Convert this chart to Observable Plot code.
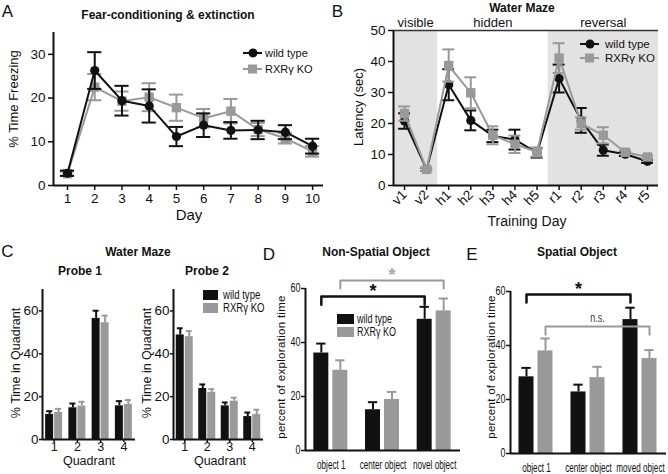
<!DOCTYPE html>
<html><head><meta charset="utf-8">
<script src="https://cdn.jsdelivr.net/npm/d3@7"></script>
<script src="https://cdn.jsdelivr.net/npm/@observablehq/plot@0.6"></script>
<style>
html,body{margin:0;padding:0;background:#fff;}
#root{position:relative;width:668px;height:474px;overflow:hidden;font-family:"Liberation Sans",Arial,sans-serif;color:#111;}
</style></head><body><div id="root"></div>
<script>
// ---------- DATA ----------
// A: fear conditioning
const daysA = [1,2,3,4,5,6,7,8,9,10];
const wtA    = [2.8, 26.3, 19.4, 18.2, 11.2, 13.8, 12.6, 12.7, 12.2, 9.0];
const wtAErr = [0.6, 4.2, 3.4, 3.8, 2.2, 2.7, 1.9, 2.1, 1.6, 1.7];
const koA    = [2.7, 22.5, 19.3, 20.2, 17.8, 15.4, 17.0, 12.8, 10.8, 7.8];
const koAErr = [0.5, 3.0, 2.2, 3.2, 3.0, 2.1, 2.8, 1.5, 1.2, 1.2];
// B: water maze latency
const daysB   = ["v1","v2","h1","h2","h3","h4","h5","r1","r2","r3","r4","r5"];
const phasesB = ["visible","visible","hidden","hidden","hidden","hidden","hidden","reversal","reversal","reversal","reversal","reversal"];
const wtB    = [20.8, 5.2, 32.5, 21.0, 16.0, 14.8, 10.5, 34.5, 21.0, 11.4, 10.1, 7.8];
const wtBErr = [2.5, 0.5, 5.0, 3.2, 2.0, 3.2, 1.5, 4.5, 4.0, 1.8, 0.6, 0.5];
const koB    = [23.2, 5.2, 38.7, 29.9, 16.2, 13.3, 10.8, 41.1, 20.0, 16.2, 10.7, 9.2];
const koBErr = [2.3, 0.5, 5.2, 5.0, 2.9, 2.8, 1.5, 4.8, 2.0, 2.6, 0.6, 0.5];
// C: probe trials
const quadrants = [1,2,3,4];
const wtP1 = [11.7, 14.8, 56.5, 15.7], wtP1Err = [1.5, 2.0, 3.6, 2.2];
const koP1 = [12.6, 15.6, 54.5, 16.4], koP1Err = [1.7, 2.0, 3.3, 2.0];
const wtP2 = [48.8, 23.8, 15.7, 10.7], wtP2Err = [3.1, 1.9, 1.6, 1.9];
const koP2 = [48.0, 22.0, 17.9, 11.7], koP2Err = [2.6, 1.5, 1.6, 2.2];
// D: non-spatial object
const objectsD = ["object 1","center object","novel object"];
const wtD = [36.1, 15.1, 48.6], wtDErr = [3.5, 2.8, 4.6];
const koD = [29.7, 18.9, 51.7], koDErr = [3.7, 2.8, 4.6];
const bracketsD = [
  {genotype:"wt", from:0, to:2, level:57, label:"*"},
  {genotype:"ko", from:0, to:2, level:63, label:"*"}
];
// E: spatial object
const objectsE = ["object 1","center object","moved object"];
const wtE = [28.4, 22.8, 49.6], wtEErr = [3.3, 2.7, 4.4];
const koE = [38.0, 28.1, 35.2], koEErr = [4.6, 4.0, 3.1];
const bracketsE = [
  {genotype:"wt", from:0, to:2, level:58.9, label:"*"},
  {genotype:"ko", from:0, to:2, level:47, label:"n.s."}
];
const legendLabels = ["wild type", "RXR\u03b3 KO"];

// ---------- STYLE ----------
const BLACK = "#111", GRAY = "#999", LIGHT = "#a8a8a8", SHADE = "#e2e2e2";
const SANS = '"Liberation Sans", Arial, sans-serif';
const root = document.getElementById("root");

function place(svg, left, top) {
  svg.style.position = "absolute";
  svg.style.left = left + "px";
  svg.style.top = top + "px";
  root.append(svg);
  return svg;
}
// horizontally condense text (the reference uses a narrow face)
function condense(nodes, f) {
  nodes.forEach(t => {
    if (t.textContent === "*") return;
    const tr = t.getAttribute("transform") || "";
    t.setAttribute("transform", tr + ` scale(${f},1)`);
  });
}
function pstyle(size) {
  return {background: "transparent", overflow: "visible", fontFamily: SANS, fontSize: size + "px", color: "#111"};
}
function txt(s, x, y, o = {}) {
  const d = document.createElement("div");
  d.textContent = s;
  Object.assign(d.style, {
    position: "absolute", left: x + "px", top: y + "px",
    transform: "translate(-50%,-50%)" + (o.rot ? ` rotate(${o.rot}deg)` : ""),
    whiteSpace: "nowrap", fontSize: (o.size || 13) + "px", fontWeight: o.bold ? "bold" : "normal",
    fontFamily: SANS, color: o.color || "#111", lineHeight: "1",
    letterSpacing: (o.ls || 0) + "px"
  });
  root.append(d);
}
function lineLegend(left, top, gap, textX, size, items) {
  const svg = d3.create("svg").attr("width", 100).attr("height", 30)
    .style("position", "absolute").style("left", left + "px").style("top", top + "px").style("overflow", "visible");
  items.forEach((it, k) => {
    const y = k * gap;
    svg.append("line").attr("x1", 0).attr("x2", 19).attr("y1", y).attr("y2", y).attr("stroke", it.color).attr("stroke-width", 2);
    if (it.symbol === "circle") svg.append("circle").attr("cx", 10).attr("cy", y).attr("r", 4.5).attr("fill", it.color);
    else svg.append("rect").attr("x", 5).attr("y", y - 4.5).attr("width", 9).attr("height", 9).attr("fill", it.color);
    svg.append("text").attr("x", textX).attr("y", y).attr("dy", "0.35em").attr("font-size", size)
      .attr("font-family", SANS).attr("fill", "#111").text(it.label);
  });
  root.append(svg.node());
}
function swatchLegend(left, top, gap, w, h, textX, size, f, items) {
  const svg = d3.create("svg").attr("width", 100).attr("height", 30)
    .style("position", "absolute").style("left", left + "px").style("top", top + "px").style("overflow", "visible");
  items.forEach((it, k) => {
    const y = k * gap;
    svg.append("rect").attr("x", 0).attr("y", y - h / 2).attr("width", w).attr("height", h).attr("fill", it.color);
    svg.append("text").attr("transform", `translate(${textX},${y})`).attr("dy", "0.35em").attr("font-size", size)
      .attr("font-family", SANS).attr("fill", "#111").text(it.label);
  });
  root.append(svg.node());
  condense(svg.node().querySelectorAll("text"), f);
}

// line + error bar series
function series(rows, x, key, color, symbol, r, cap) {
  const hi = d => d[key] + d[key + "Err"], lo = d => d[key] - d[key + "Err"];
  return [
    Plot.line(rows, {x, y: key, stroke: color, strokeWidth: 2}),
    Plot.ruleX(rows, {x, y1: lo, y2: hi, stroke: color, strokeWidth: 2}),
    Plot.ruleY(rows, {x1: d => d[x] - cap, x2: d => d[x] + cap, y: hi, stroke: color, strokeWidth: 2}),
    Plot.ruleY(rows, {x1: d => d[x] - cap, x2: d => d[x] + cap, y: lo, stroke: color, strokeWidth: 2}),
    Plot.dot(rows, {x, y: key, symbol, r, fill: color, stroke: "none"})
  ];
}

// ---------- PANEL A ----------
{
  const rows = daysA.map((day, i) => ({day, wt: wtA[i], wtErr: wtAErr[i], ko: koA[i], koErr: koAErr[i]}));
  const xDom = [0.486, 10.4];
  const p = Plot.plot({
    width: 335, height: 225, marginLeft: 53, marginRight: 12, marginTop: 32, marginBottom: 40,
    x: {domain: xDom}, y: {domain: [0, 35]},
    style: pstyle(13.5),
    marks: [
      Plot.axisY({ticks: [0, 10, 20, 30], tickSize: 5, tickPadding: 3, strokeWidth: 1.5, label: null}),
      Plot.axisX({ticks: daysA, tickSize: 5, tickPadding: 3, strokeWidth: 1.5, label: null}),
      Plot.ruleX([xDom[0]], {stroke: BLACK, strokeWidth: 2}),
      Plot.ruleY([0], {stroke: BLACK, strokeWidth: 2}),
      ...series(rows, "day", "ko", GRAY, "square", 5.3, 0.26),
      ...series(rows, "day", "wt", BLACK, "circle", 4.6, 0.26)
    ]
  });
  place(p, 0, 0);
  txt("A", 7.5, 11, {size: 17});
  txt("Fear-conditioning & extinction", 168, 15, {size: 12, bold: true});
  txt("% Time Freezing", 13, 99, {size: 13, rot: -90});
  txt("Day", 189, 214, {size: 15});
  lineLegend(243, 53, 16, 22, 11, [
    {color: BLACK, symbol: "circle", label: legendLabels[0]},
    {color: GRAY, symbol: "square", label: legendLabels[1]}
  ]);
}

// ---------- PANEL B ----------
{
  const idx = daysB.map((_, i) => i);
  const rows = idx.map(i => ({i, wt: wtB[i], wtErr: wtBErr[i], ko: koB[i], koErr: koBErr[i]}));
  const spans = d3.groups(idx, i => phasesB[i]).map(([phase, is]) => ({phase, start: d3.min(is), end: d3.max(is)}));
  const xDom = [-0.5, daysB.length - 0.5];
  const p = Plot.plot({
    width: 338, height: 230, marginLeft: 63, marginRight: 10, marginTop: 30, marginBottom: 45,
    x: {domain: xDom}, y: {domain: [0, 50]},
    style: pstyle(13.5),
    marks: [
      Plot.rect(spans.filter(s => s.phase !== "hidden"), {x1: d => d.start - 0.5, x2: d => d.end + 0.5, y1: 0, y2: 50, fill: SHADE}),
      Plot.text(spans, {x: d => (d.start + d.end) / 2, y: 50, text: "phase", dy: -4, lineAnchor: "bottom", fontSize: 13}),
      Plot.ruleY([50], {stroke: "#333", strokeWidth: 1.5}),
      Plot.axisY({ticks: [0, 10, 20, 30, 40, 50], tickSize: 5, tickPadding: 3, strokeWidth: 1.5, label: null}),
      Plot.axisX({ticks: idx, tickFormat: i => daysB[i], tickRotate: -45, tickSize: 5, tickPadding: 2, strokeWidth: 1.5, label: null}),
      Plot.ruleX([xDom[0]], {stroke: BLACK, strokeWidth: 2}),
      Plot.ruleY([0], {stroke: BLACK, strokeWidth: 2}),
      ...series(rows, "i", "wt", BLACK, "circle", 4.6, 0.27),
      ...series(rows, "i", "ko", GRAY, "square", 5.3, 0.27)
    ]
  });
  place(p, 330, 0);
  txt("B", 337.5, 11, {size: 17});
  txt("Water Maze", 522, 8, {size: 12, bold: true});
  txt("Latency (sec)", 358, 107, {size: 13, rot: -90});
  txt("Training Day", 527, 221, {size: 14});
  lineLegend(580, 44, 14, 25, 11.5, [
    {color: BLACK, symbol: "circle", label: legendLabels[0]},
    {color: GRAY, symbol: "square", label: legendLabels[1]}
  ]);
}

// ---------- PANEL C ----------
function probePlot(wt, wtErr, ko, koErr, left, width, marginRight) {
  const rows = quadrants.map((q, i) => ({q, wt: wt[i], wtErr: wtErr[i], ko: ko[i], koErr: koErr[i]}));
  const xDom = [0.5, quadrants.length + 0.5];
  const step = (width - 42 - marginRight) / quadrants.length;
  const barW = 8, inset = (step - barW) / 2;
  const marks = [
    Plot.axisY({ticks: [0, 20, 40, 60], tickSize: 3, tickPadding: 1, strokeWidth: 1.5, label: null, fontSize: 13.5}),
    Plot.axisX({ticks: quadrants, tickFormat: d3.format("d"), tickSize: 3, tickPadding: 0, strokeWidth: 1.5, label: null, fontSize: 12.5})
  ];
  for (const g of [{key: "wt", color: BLACK, dx: -4.5}, {key: "ko", color: GRAY, dx: 4.5}]) {
    const hi = d => d[g.key] + d[g.key + "Err"];
    marks.push(
      Plot.ruleX(rows, {x: "q", y1: g.key, y2: hi, stroke: g.color, strokeWidth: 2, dx: g.dx}),
      Plot.ruleY(rows, {x1: d => d.q - 0.13, x2: d => d.q + 0.13, y: hi, stroke: g.color, strokeWidth: 2, dx: g.dx}),
      Plot.rect(rows, {x1: d => d.q - 0.5, x2: d => d.q + 0.5, y1: 0, y2: g.key, fill: g.color, insetLeft: inset, insetRight: inset, dx: g.dx})
    );
  }
  marks.push(Plot.ruleX([xDom[0]], {stroke: BLACK, strokeWidth: 2}), Plot.ruleY([0], {stroke: BLACK, strokeWidth: 2}));
  const p = Plot.plot({
    width, height: 180, marginLeft: 42, marginRight, marginTop: 9, marginBottom: 21,
    x: {domain: xDom}, y: {domain: [0, 70]},
    style: pstyle(13.5), marks
  });
  place(p, left, 280);
}
probePlot(wtP1, wtP1Err, koP1, koP1Err, 0, 145, 10);
probePlot(wtP2, wtP2Err, koP2, koP2Err, 131, 140, 8);
txt("C", 7.5, 251, {size: 17});
txt("Water Maze", 138, 252, {size: 12, bold: true});
txt("Probe 1", 80, 271, {size: 12, bold: true});
txt("Probe 2", 207, 271, {size: 12, bold: true});
txt("% Time in Quadrant", 16, 363, {size: 12.5, rot: -90});
txt("% Time in Quadrant", 147, 363, {size: 12.5, rot: -90});
txt("Quadrant", 89, 461, {size: 12.5});
txt("Quadrant", 220, 461, {size: 12.5});
swatchLegend(203, 295, 13, 15, 10, 20, 12, 0.8, [
  {color: BLACK, label: legendLabels[0]}, {color: GRAY, label: legendLabels[1]}
]);

// ---------- PANELS D & E ----------
function objPlot(cats, wt, wtErr, ko, koErr, brackets, left, width, mL, mR, mT, mB) {
  const rows = cats.map((c, i) => ({i, wt: wt[i], wtErr: wtErr[i], ko: ko[i], koErr: koErr[i]}));
  const xDom = [-0.5, cats.length - 0.5];
  const step = (width - mL - mR) / cats.length;
  const barW = 15, inset = (step - barW) / 2;
  const groups = [{key: "wt", color: BLACK, text: BLACK, dx: -10, sw: 2.5}, {key: "ko", color: GRAY, text: LIGHT, dx: 9, sw: 2}];
  const marks = [
    Plot.axisY({ticks: [0, 20, 40, 60], tickSize: 4, tickPadding: 1, strokeWidth: 1.5, label: null}),
    Plot.axisX({ticks: rows.map(d => d.i), tickFormat: i => cats[i], tickSize: 0, tickPadding: 10, label: null})
  ];
  for (const g of groups) {
    const hi = d => d[g.key] + d[g.key + "Err"];
    marks.push(
      Plot.ruleX(rows, {x: "i", y1: g.key, y2: hi, stroke: g.color, strokeWidth: 2, dx: g.dx}),
      Plot.ruleY(rows, {x1: d => d.i - 0.09, x2: d => d.i + 0.09, y: hi, stroke: g.color, strokeWidth: 2, dx: g.dx}),
      Plot.rect(rows, {x1: d => d.i - 0.5, x2: d => d.i + 0.5, y1: 0, y2: g.key, fill: g.color, insetLeft: inset, insetRight: inset, dx: g.dx})
    );
    const bs = brackets.filter(b => b.genotype === g.key);
    const drop = 3;
    const pts = bs.flatMap((b, k) => [
      {k, x: b.from, y: b.level - drop}, {k, x: b.from, y: b.level},
      {k, x: b.to, y: b.level}, {k, x: b.to, y: b.level - drop}
    ]);
    marks.push(
      Plot.line(pts, {x: "x", y: "y", z: "k", stroke: g.color, strokeWidth: g.sw, dx: g.dx}),
      Plot.text(bs.filter(b => b.label === "*"), {x: d => (d.from + d.to) / 2, y: "level", text: "label", dx: g.dx, dy: -5, lineAnchor: "middle", fontSize: 18, fontWeight: "bold", fill: g.text}),
      Plot.text(bs.filter(b => b.label !== "*"), {x: d => (d.from + d.to) / 2, y: "level", text: "label", dx: g.dx, dy: -8, lineAnchor: "middle", fontSize: 12, fill: "#333"})
    );
  }
  marks.push(Plot.ruleX([xDom[0]], {stroke: BLACK, strokeWidth: 2}), Plot.ruleY([0], {stroke: BLACK, strokeWidth: 2}));
  const p = Plot.plot({
    width, height: 234, marginLeft: mL, marginRight: mR, marginTop: mT, marginBottom: mB,
    x: {domain: xDom}, y: {domain: [0, 60]},
    style: pstyle(12), marks
  });
  place(p, left, 240);
  const xl = [...p.querySelectorAll('g[aria-label="x-axis tick label"] text')];
  condense(xl, 0.68);
  condense([...p.querySelectorAll("text")].filter(t => !xl.includes(t)), 0.75);
}
objPlot(objectsD, wtD, wtDErr, koD, koDErr, bracketsD, 230, 238, 75, 8, 48, 24);
txt("D", 269, 254, {size: 17});
txt("Non-Spatial Object", 376, 252, {size: 12, bold: true});
txt("percent of exploration time", 282, 367, {size: 11.5, rot: -90, ls: 0.3});
swatchLegend(337, 319, 13, 17, 10, 20, 12, 0.75, [
  {color: BLACK, label: legendLabels[0]}, {color: GRAY, label: legendLabels[1]}
]);

objPlot(objectsE, wtE, wtEErr, koE, koEErr, bracketsE, 440, 228, 70, 2, 51, 21);
txt("E", 472, 254, {size: 17});
txt("Spatial Object", 577, 252, {size: 12, bold: true});
txt("percent of exploration time", 492, 367, {size: 11.5, rot: -90, ls: 0.3});
</script></body></html>
